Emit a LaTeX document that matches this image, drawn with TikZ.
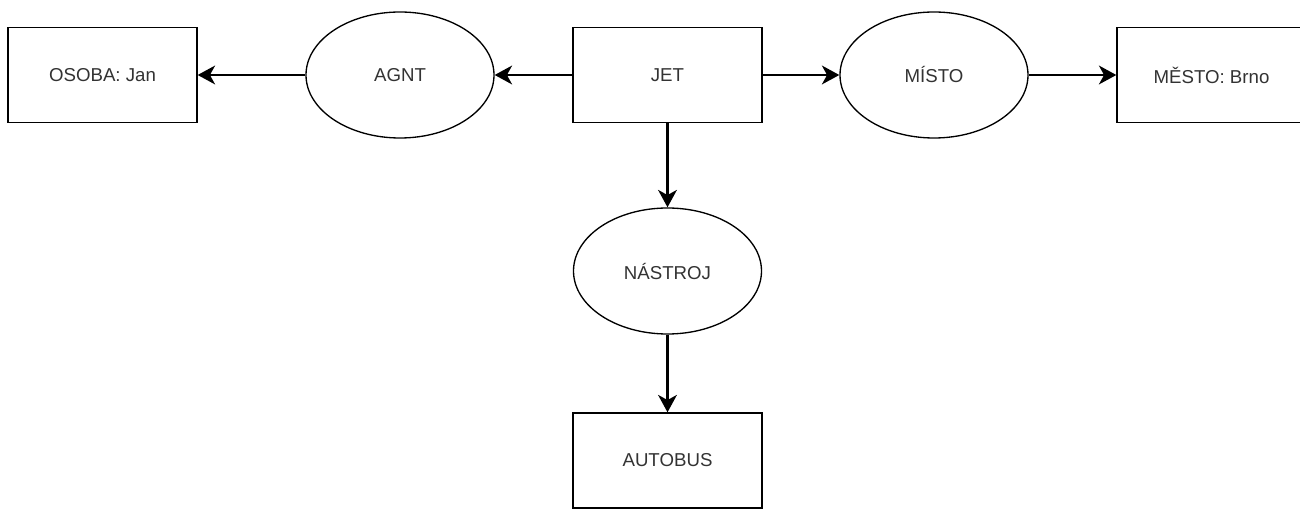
\documentclass[tikz,border=0pt]{standalone}
\usepackage{fontspec}
\setmainfont{Liberation Sans}
\usetikzlibrary{shapes.geometric,arrows.meta}
\definecolor{labelgray}{HTML}{333333}
\begin{document}
\begin{tikzpicture}[x=0.75pt,y=-0.75pt,
  concept/.style={draw=black,line width=1pt,rectangle,minimum width=141.75pt,minimum height=71.25pt,inner sep=0pt,
    font=\fontsize{14pt}{16pt}\selectfont,text=labelgray},
  relation/.style={draw=black,line width=1pt,ellipse,minimum width=141pt,minimum height=94.5pt,inner sep=0pt,
    font=\fontsize{14pt}{16pt}\selectfont,text=labelgray},
  link/.style={draw=black,line width=2.1pt,-{Stealth[length=13pt,width=14pt,inset=3.8pt]}}]
\clip (0,0) rectangle (1300,509);
\fill[white] (0,0) rectangle (1300,509);

% concept boxes
\node[concept] (osoba) at (102.5,75) {OSOBA: Jan};
\node[concept] (jet) at (667.5,75) {JET};
\node[concept] (mesto) at (1211.5,75) {MĚSTO: Brno};
\node[concept] (autobus) at (667.5,460.5) {AUTOBUS};

% relation ellipses
\node[relation] (agnt) at (400,75) {AGNT};
\node[relation] (misto) at (934,75) {MÍSTO};
\node[relation] (nastroj) at (667.5,271) {NÁSTROJ};

% relation arcs
\draw[link] (jet) -- (agnt);
\draw[link] (agnt) -- (osoba);
\draw[link] (jet) -- (misto);
\draw[link] (misto) -- (mesto);
\draw[link] (jet) -- (nastroj);
\draw[link] (nastroj) -- (autobus);
\end{tikzpicture}
\end{document}
